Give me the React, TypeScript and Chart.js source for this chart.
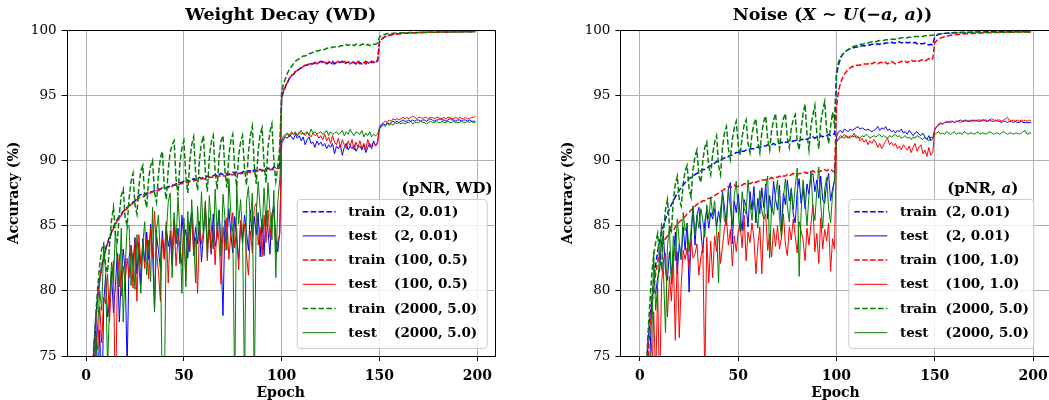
import React, { useEffect, useRef } from "react";
import { Chart, registerables } from "chart.js";
Chart.register(...registerables);

// ---------- DATA (epochs 0..199) ----------
const epochs: number[] = Array.from({ length: 200 }, (_, i) => i);

const xTickStep = 50;
const yTickStep = 5;
const yMin = 75;
const yMax = 100;

const legendWords = ["train", "test", "train", "test", "train", "test"];
const wdLegendParams = ["(2, 0.01)", "(2, 0.01)", "(100, 0.5)", "(100, 0.5)", "(2000, 5.0)", "(2000, 5.0)"];
const nzLegendParams = ["(2, 0.01)", "(2, 0.01)", "(100, 1.0)", "(100, 1.0)", "(2000, 5.0)", "(2000, 5.0)"];

// Weight Decay panel
const wdTrain2 = [
  42.0, 58.5, 67.8, 72.6, 75.8, 77.9, 79.6, 80.9, 81.9, 82.6,
  83.2, 83.7, 84.1, 84.5, 84.9, 85.2, 85.5, 85.7, 85.9, 86.1,
  86.2, 86.4, 86.5, 86.7, 86.8, 86.9, 87.1, 87.3, 87.4, 87.3,
  87.4, 87.5, 87.5, 87.6, 87.6, 87.7, 87.7, 87.8, 87.8, 87.9,
  87.9, 87.9, 88.0, 88.0, 88.1, 88.1, 88.2, 88.2, 88.3, 88.3,
  88.4, 88.3, 88.5, 88.4, 88.5, 88.6, 88.5, 88.6, 88.7, 88.6,
  88.7, 88.7, 88.8, 88.7, 88.8, 88.8, 88.9, 88.8, 88.9, 89.0,
  88.9, 89.0, 89.0, 88.9, 89.0, 89.1, 89.0, 89.1, 89.1, 89.0,
  89.1, 89.2, 89.1, 89.2, 89.2, 89.1, 89.3, 89.2, 89.3, 89.3,
  89.2, 89.4, 89.3, 89.4, 89.4, 89.3, 89.5, 89.4, 89.5, 89.6,
  94.8, 95.3, 95.7, 96.0, 96.3, 96.5, 96.6, 96.8, 96.9, 97.0,
  97.1, 97.2, 97.3, 97.3, 97.4, 97.4, 97.4, 97.5, 97.5, 97.5,
  97.6, 97.5, 97.5, 97.4, 97.5, 97.5, 97.6, 97.4, 97.5, 97.5,
  97.5, 97.6, 97.4, 97.5, 97.5, 97.6, 97.5, 97.5, 97.4, 97.6,
  97.5, 97.4, 97.5, 97.6, 97.5, 97.4, 97.6, 97.5, 97.6, 97.6,
  99.10, 99.30, 99.42, 99.50, 99.56, 99.60, 99.64, 99.67, 99.69, 99.70,
  99.72, 99.73, 99.74, 99.75, 99.76, 99.77, 99.77, 99.78, 99.79, 99.79,
  99.80, 99.80, 99.81, 99.81, 99.82, 99.82, 99.82, 99.83, 99.83, 99.83,
  99.84, 99.84, 99.84, 99.85, 99.85, 99.85, 99.85, 99.86, 99.86, 99.86,
  99.86, 99.86, 99.87, 99.87, 99.87, 99.87, 99.87, 99.88, 99.88, 99.88,
];
const wdTest2 = [
  30.0, 48.0, 60.0, 68.0, 72.5, 77.7, 73.0, 77.0, 70.0, 79.0,
  81.2, 78.0, 79.2, 81.5, 78.3, 80.4, 82.9, 77.6, 81.0, 83.2,
  81.5, 74.0, 82.6, 83.5, 82.0, 84.1, 81.3, 83.6, 80.5, 84.0,
  82.2, 84.5, 82.4, 85.1, 83.0, 78.4, 84.3, 83.1, 81.7, 84.6,
  82.5, 85.0, 83.4, 84.2, 82.0, 85.4, 83.6, 84.8, 82.1, 85.8,
  83.9, 84.7, 82.5, 85.1, 86.0, 83.2, 84.9, 83.6, 85.3, 82.2,
  84.3, 86.3, 83.5, 84.7, 82.8, 85.9, 83.4, 84.1, 86.2, 83.0,
  78.1, 85.4, 83.9, 86.3, 84.4, 82.9, 85.7, 84.0, 82.4, 85.2,
  83.6, 85.8, 84.5, 83.1, 86.2, 84.0, 85.7, 84.3, 86.0, 82.6,
  85.5, 82.7, 86.1, 84.6, 82.8, 85.9, 86.5, 84.0, 83.0, 84.5,
  91.3, 91.6, 91.8, 91.7, 92.0, 91.8, 91.6, 92.0, 91.7, 91.9,
  91.5, 91.8, 91.2, 91.6, 91.8, 91.3, 91.4, 91.0, 91.5, 91.2,
  91.4, 91.1, 91.3, 90.9, 91.2, 91.0, 91.3, 90.5, 91.1, 90.9,
  91.2, 90.4, 91.0, 91.3, 90.8, 91.1, 90.9, 91.2, 90.7, 91.0,
  91.1, 90.8, 91.2, 90.6, 91.0, 91.3, 90.9, 91.5, 91.1, 91.4,
  92.5, 92.7, 92.8, 92.7, 92.9, 92.8, 92.9, 93.0, 92.9, 93.0,
  92.9, 93.0, 93.1, 93.0, 93.0, 93.1, 93.0, 93.1, 93.0, 93.1,
  93.1, 93.0, 93.1, 93.1, 93.0, 93.1, 93.2, 93.1, 93.0, 93.1,
  93.1, 93.2, 93.1, 93.1, 93.0, 93.1, 93.2, 93.1, 93.1, 93.0,
  93.1, 93.1, 93.0, 93.1, 93.1, 93.0, 93.1, 93.0, 93.0, 93.0,
];
const wdTrain100 = [
  40.5, 57.8, 67.2, 72.3, 75.5, 77.7, 79.5, 80.8, 81.8, 82.5,
  83.1, 83.6, 84.0, 84.4, 84.8, 85.1, 85.4, 85.6, 85.8, 86.0,
  86.2, 86.3, 86.5, 86.6, 86.7, 86.9, 87.0, 87.1, 87.2, 87.2,
  87.3, 87.4, 87.5, 87.5, 87.6, 87.6, 87.7, 87.7, 87.8, 87.8,
  87.9, 87.9, 87.9, 88.0, 88.0, 88.1, 88.1, 88.1, 88.2, 88.2,
  88.3, 88.3, 88.3, 88.4, 88.4, 88.4, 88.5, 88.5, 88.5, 88.6,
  88.6, 88.6, 88.6, 88.7, 88.7, 88.7, 88.7, 88.8, 88.8, 88.8,
  88.8, 88.8, 88.9, 88.9, 88.9, 88.9, 88.9, 89.0, 89.0, 89.0,
  89.0, 89.0, 89.1, 89.1, 89.1, 89.1, 89.1, 89.2, 89.2, 89.2,
  89.2, 89.2, 89.2, 89.3, 89.3, 89.3, 89.3, 89.3, 89.4, 89.4,
  94.9, 95.4, 95.7, 96.0, 96.3, 96.5, 96.7, 96.8, 96.9, 97.0,
  97.1, 97.2, 97.3, 97.3, 97.4, 97.4, 97.5, 97.5, 97.4, 97.5,
  97.5, 97.6, 97.5, 97.5, 97.6, 97.5, 97.4, 97.5, 97.5, 97.6,
  97.5, 97.5, 97.6, 97.5, 97.5, 97.4, 97.5, 97.6, 97.5, 97.5,
  97.4, 97.5, 97.5, 97.4, 97.6, 97.5, 97.5, 97.6, 97.5, 97.7,
  99.05, 99.28, 99.40, 99.49, 99.55, 99.59, 99.63, 99.66, 99.68, 99.70,
  99.71, 99.72, 99.74, 99.75, 99.75, 99.76, 99.77, 99.78, 99.78, 99.79,
  99.80, 99.80, 99.80, 99.81, 99.81, 99.82, 99.82, 99.82, 99.83, 99.83,
  99.83, 99.84, 99.84, 99.84, 99.85, 99.85, 99.85, 99.85, 99.86, 99.86,
  99.86, 99.86, 99.86, 99.87, 99.87, 99.87, 99.87, 99.87, 99.88, 99.88,
];
const wdTest100 = [
  28.0, 46.0, 59.0, 67.0, 72.0, 76.5, 75.5, 78.8, 76.0, 79.5,
  79.0, 81.3, 77.6, 80.8, 82.3, 70.2, 81.0, 82.8, 79.6, 81.9,
  80.7, 82.5, 81.0, 83.4, 80.2, 83.8, 79.2, 84.3, 82.0, 83.5,
  81.7, 84.0, 80.9, 84.8, 82.6, 86.1, 83.0, 81.5, 79.2, 84.0,
  82.4, 85.3, 80.6, 84.6, 83.2, 85.5, 81.9, 84.2, 83.4, 82.0,
  85.2, 80.8, 84.5, 83.0, 85.9, 82.7, 84.1, 79.8, 85.0, 83.6,
  84.5, 86.8, 82.3, 85.6, 83.0, 84.7, 82.0, 85.2, 83.8, 80.5,
  84.9, 83.1, 85.6, 82.4, 84.3, 86.0, 83.3, 84.8, 81.6, 85.4,
  83.9, 85.1, 82.8, 81.2, 84.6, 82.9, 86.4, 86.7, 83.5, 84.9,
  82.6, 85.8, 83.7, 86.2, 84.1, 85.5, 86.3, 82.9, 83.8, 84.3,
  91.5, 91.9, 92.0, 92.1, 91.8, 92.2, 92.0, 92.1, 91.9, 92.2,
  92.0, 92.1, 91.9, 92.1, 92.0, 91.8, 92.1, 91.9, 92.0, 91.7,
  91.9, 91.6, 92.0, 91.5, 91.8, 91.3, 91.9, 91.4, 91.2, 91.7,
  91.0, 91.6, 91.2, 90.9, 91.5, 91.1, 91.6, 90.8, 91.4, 91.0,
  91.5, 90.9, 91.3, 90.8, 91.6, 91.0, 91.2, 91.4, 91.1, 91.3,
  92.6, 92.8, 92.9, 93.0, 92.9, 93.1, 93.0, 93.2, 93.1, 93.2,
  93.1, 93.2, 93.3, 93.2, 93.3, 93.2, 93.3, 93.4, 93.3, 93.2,
  93.3, 93.3, 93.2, 93.3, 93.3, 93.2, 93.3, 93.3, 93.2, 93.3,
  93.3, 93.2, 93.2, 93.3, 93.2, 93.3, 93.3, 93.2, 93.2, 93.3,
  93.2, 93.3, 93.2, 93.2, 93.3, 93.2, 93.2, 93.3, 93.3, 93.4,
];
const wdTrain2000 = [
  40.0, 57.0, 67.0, 72.5, 75.5, 78.2, 80.4, 82.0, 83.2, 83.6,
  81.9, 81.4, 83.5, 85.4, 86.4, 84.3, 83.8, 85.9, 87.3, 87.8,
  85.6, 85.0, 87.1, 88.4, 89.0, 86.6, 85.9, 88.0, 89.2, 89.6,
  87.1, 86.4, 88.6, 89.6, 90.0, 87.5, 86.8, 88.9, 90.2, 90.7,
  88.0, 87.0, 89.3, 90.6, 91.2, 91.5, 88.6, 87.3, 89.8, 91.0,
  91.5, 88.8, 87.5, 89.9, 91.2, 91.8, 89.0, 87.7, 90.1, 91.3,
  91.9, 89.0, 87.6, 90.2, 91.4, 91.9, 89.1, 87.8, 90.3, 91.5,
  91.9, 89.2, 87.9, 90.4, 91.5, 92.0, 89.3, 88.0, 90.4, 91.4,
  91.9, 89.4, 88.1, 90.6, 91.9, 92.6, 89.6, 88.2, 90.8, 92.0,
  92.5, 89.7, 88.3, 91.0, 92.2, 92.8, 90.0, 88.4, 89.5, 91.0,
  95.3, 95.9, 96.3, 96.7, 97.0, 97.2, 97.4, 97.6, 97.7, 97.8,
  97.9, 98.0, 98.0, 98.1, 98.2, 98.2, 98.3, 98.3, 98.4, 98.4,
  98.5, 98.5, 98.5, 98.6, 98.6, 98.6, 98.7, 98.7, 98.7, 98.7,
  98.8, 98.8, 98.8, 98.9, 98.8, 98.9, 98.9, 98.8, 98.9, 98.9,
  98.8, 98.9, 98.9, 98.8, 98.9, 98.8, 98.9, 98.9, 98.9, 99.0,
  99.45, 99.58, 99.64, 99.68, 99.71, 99.73, 99.74, 99.75, 99.76, 99.77,
  99.77, 99.78, 99.78, 99.79, 99.79, 99.80, 99.80, 99.80, 99.81, 99.81,
  99.81, 99.82, 99.82, 99.82, 99.82, 99.83, 99.83, 99.83, 99.83, 99.83,
  99.84, 99.84, 99.84, 99.84, 99.84, 99.84, 99.85, 99.85, 99.85, 99.85,
  99.85, 99.85, 99.85, 99.86, 99.86, 99.86, 99.86, 99.86, 99.86, 99.86,
];
const wdTest2000 = [
  25.0, 44.0, 58.0, 66.0, 71.0, 74.6, 77.5, 80.0, 78.5, 83.5,
  81.4, 74.0, 79.0, 82.2, 80.6, 84.6, 82.0, 80.3, 84.8, 77.6,
  81.8, 84.9, 85.0, 80.4, 82.9, 80.1, 84.3, 82.0, 79.8, 83.6,
  85.3, 81.2, 83.9, 80.7, 86.4, 78.5, 84.7, 85.8, 82.6, 72.0,
  72.0, 84.3, 86.8, 87.5, 81.0, 86.0, 83.7, 87.2, 84.5, 79.8,
  85.6, 80.3, 86.1, 83.0, 87.0, 84.2, 80.6, 86.5, 83.8, 87.6,
  84.1, 86.9, 82.5, 87.3, 85.0, 83.2, 87.8, 84.6, 86.2, 82.7,
  87.4, 85.6, 83.1, 88.6, 86.0, 84.5, 72.0, 88.2, 85.1, 87.0,
  84.2, 72.5, 86.8, 88.0, 85.3, 87.5, 72.0, 85.9, 88.4, 86.2,
  84.6, 87.9, 85.0, 88.3, 86.1, 83.9, 87.7, 81.0, 86.8, 88.5,
  91.6, 91.7, 91.9, 92.0, 91.8, 92.1, 92.0, 92.2, 91.9, 92.1,
  92.3, 92.0, 92.1, 92.2, 91.9, 92.4, 92.1, 92.2, 92.0, 92.1,
  92.2, 92.0, 92.1, 92.3, 91.9, 92.2, 92.0, 92.1, 92.2, 92.0,
  92.1, 92.3, 91.9, 92.2, 92.0, 92.4, 92.1, 91.9, 92.2, 92.1,
  92.0, 92.3, 91.8, 92.1, 91.9, 92.2, 91.8, 92.0, 91.9, 92.0,
  92.4, 92.6, 92.7, 92.6, 92.8, 92.7, 92.8, 92.7, 92.9, 92.8,
  92.9, 92.8, 92.9, 92.8, 92.9, 92.9, 93.0, 92.8, 92.9, 92.9,
  92.9, 93.0, 92.9, 92.9, 92.8, 92.9, 93.0, 92.9, 92.9, 93.0,
  92.9, 92.9, 93.0, 92.9, 92.9, 93.0, 92.9, 92.9, 93.0, 92.9,
  92.9, 92.9, 93.0, 92.9, 92.9, 93.0, 92.9, 93.0, 92.9, 92.9,
];

// Noise panel
const nzTrain2 = [
  40.0, 58.0, 67.5, 72.8, 75.8, 77.8, 79.3, 80.8, 82.0, 83.0,
  83.8, 84.5, 85.0, 85.5, 85.9, 86.3, 86.6, 86.9, 87.2, 87.5,
  87.7, 87.9, 88.1, 88.3, 88.4, 88.6, 88.7, 88.8, 88.9, 89.0,
  89.1, 89.2, 89.3, 89.3, 89.4, 89.5, 89.6, 89.7, 89.8, 89.9,
  90.0, 90.0, 90.1, 90.2, 90.2, 90.3, 90.4, 90.4, 90.5, 90.6,
  90.6, 90.7, 90.7, 90.7, 90.8, 90.8, 90.9, 90.9, 90.9, 91.0,
  91.0, 91.0, 91.1, 91.1, 91.1, 91.2, 91.2, 91.2, 91.3, 91.2,
  91.3, 91.3, 91.4, 91.3, 91.4, 91.4, 91.5, 91.4, 91.5, 91.5,
  91.6, 91.5, 91.6, 91.6, 91.7, 91.6, 91.7, 91.7, 91.8, 91.7,
  91.8, 91.8, 91.9, 91.8, 91.9, 91.9, 92.0, 91.9, 92.0, 92.0,
  96.5, 97.3, 97.8, 98.1, 98.3, 98.4, 98.5, 98.55, 98.6, 98.65,
  98.7, 98.7, 98.75, 98.8, 98.8, 98.8, 98.85, 98.85, 98.9, 98.9,
  98.9, 98.95, 98.9, 99.0, 98.95, 99.0, 99.0, 99.0, 99.05, 99.0,
  99.0, 99.05, 99.1, 99.0, 99.05, 99.1, 99.0, 99.05, 99.0, 99.0,
  99.05, 98.95, 99.0, 98.95, 98.95, 99.0, 98.9, 98.85, 98.9, 98.85,
  99.50, 99.60, 99.65, 99.70, 99.72, 99.74, 99.76, 99.77, 99.78, 99.79,
  99.80, 99.80, 99.81, 99.81, 99.82, 99.82, 99.83, 99.83, 99.83, 99.84,
  99.84, 99.84, 99.85, 99.85, 99.85, 99.85, 99.86, 99.86, 99.86, 99.86,
  99.86, 99.87, 99.87, 99.87, 99.87, 99.87, 99.87, 99.88, 99.88, 99.88,
  99.88, 99.88, 99.88, 99.88, 99.89, 99.89, 99.89, 99.89, 99.89, 99.89,
];
const nzTest2 = [
  30.0, 48.0, 60.0, 68.0, 73.0, 74.5, 79.2, 80.1, 79.8, 81.0,
  81.6, 83.8, 84.2, 81.5, 80.8, 83.0, 81.2, 82.6, 84.5, 81.3,
  83.6, 82.4, 84.9, 83.1, 85.2, 79.9, 84.0, 86.5, 83.5, 85.8,
  86.4, 84.6, 82.9, 85.3, 86.2, 84.8, 86.0, 85.5, 86.3, 84.9,
  86.1, 85.2, 87.6, 86.4, 85.0, 87.8, 88.3, 83.6, 86.9, 86.0,
  87.4, 85.8, 84.6, 87.0, 86.5, 84.9, 87.6, 86.2, 88.0, 85.2,
  87.1, 85.9, 87.9, 86.4, 88.2, 85.5, 87.3, 86.0, 88.4, 87.0,
  86.2, 88.1, 84.6, 87.5, 86.6, 88.5, 86.9, 87.8, 85.9, 85.2,
  87.6, 88.6, 86.7, 87.9, 86.3, 88.2, 87.4, 88.9, 89.0, 87.6,
  88.5, 87.1, 88.8, 87.0, 86.7, 88.3, 89.0, 86.9, 87.8, 88.5,
  91.8, 92.2, 92.3, 92.1, 92.4, 92.3, 92.2, 92.4, 92.3, 92.4,
  92.5, 92.6, 92.4, 92.5, 92.4, 92.3, 92.4, 92.3, 92.2, 92.3,
  92.4, 92.6, 92.3, 92.5, 92.4, 92.6, 92.3, 92.4, 92.2, 92.3,
  92.1, 92.3, 92.2, 92.4, 92.1, 92.2, 92.0, 92.3, 92.1, 91.9,
  92.1, 92.2, 92.0, 91.9, 92.1, 91.8, 91.6, 91.9, 91.5, 91.7,
  92.4, 92.6, 92.7, 92.8, 92.8, 92.9, 92.9, 93.0, 92.9, 93.0,
  92.9, 93.0, 93.0, 93.1, 93.0, 93.0, 93.1, 93.0, 93.0, 93.1,
  93.0, 93.1, 93.0, 93.0, 93.1, 93.1, 93.0, 93.0, 93.1, 93.0,
  93.0, 93.1, 93.0, 93.0, 92.9, 93.0, 93.0, 92.9, 93.0, 93.0,
  92.9, 93.0, 92.9, 92.9, 93.0, 92.9, 92.9, 92.9, 92.9, 92.9,
];
const nzTrain100 = [
  38.0, 56.0, 66.0, 71.5, 74.6, 77.0, 78.8, 80.2, 81.3, 82.2,
  82.9, 83.4, 83.7, 84.0, 84.2, 84.5, 84.7, 84.6, 84.9, 85.1,
  85.3, 85.4, 85.6, 85.7, 85.9, 86.0, 86.2, 86.3, 86.5, 86.6,
  86.8, 86.8, 86.9, 86.9, 87.0, 87.1, 87.1, 87.2, 87.3, 87.4,
  87.5, 87.6, 87.7, 87.8, 87.9, 88.0, 87.9, 88.0, 88.1, 88.0,
  88.0, 88.1, 88.1, 88.2, 88.2, 88.3, 88.2, 88.3, 88.4, 88.3,
  88.4, 88.4, 88.5, 88.5, 88.5, 88.6, 88.6, 88.7, 88.6, 88.7,
  88.7, 88.8, 88.7, 88.8, 88.8, 88.9, 88.8, 88.9, 89.0, 88.9,
  88.9, 89.0, 89.0, 89.0, 89.1, 89.0, 89.1, 89.1, 89.2, 89.1,
  89.2, 89.1, 89.2, 89.2, 89.3, 89.2, 89.3, 89.3, 89.2, 89.1,
  94.0, 95.3, 95.9, 96.3, 96.6, 96.8, 97.0, 97.1, 97.2, 97.2,
  97.3, 97.3, 97.3, 97.4, 97.4, 97.4, 97.4, 97.5, 97.4, 97.5,
  97.5, 97.4, 97.5, 97.5, 97.6, 97.5, 97.4, 97.5, 97.6, 97.5,
  97.4, 97.5, 97.5, 97.6, 97.5, 97.6, 97.5, 97.6, 97.7, 97.6,
  97.6, 97.7, 97.6, 97.7, 97.7, 97.6, 97.7, 97.8, 97.7, 97.8,
  99.00, 99.20, 99.30, 99.38, 99.44, 99.49, 99.53, 99.56, 99.59, 99.61,
  99.63, 99.65, 99.66, 99.68, 99.69, 99.70, 99.71, 99.72, 99.73, 99.74,
  99.75, 99.75, 99.76, 99.77, 99.77, 99.78, 99.78, 99.79, 99.79, 99.80,
  99.80, 99.80, 99.81, 99.81, 99.81, 99.82, 99.82, 99.82, 99.83, 99.83,
  99.83, 99.83, 99.84, 99.84, 99.84, 99.84, 99.85, 99.85, 99.85, 99.85,
];
const nzTest100 = [
  25.0, 42.0, 55.0, 64.0, 70.0, 74.2, 72.5, 78.4, 73.0, 80.2,
  72.0, 80.6, 82.4, 82.9, 78.0, 81.1, 79.2, 82.5, 76.2, 83.0,
  76.4, 80.5, 83.1, 82.4, 83.3, 81.7, 84.0, 82.5, 82.8, 83.6,
  81.2, 82.6, 83.4, 73.0, 84.1, 80.6, 83.8, 81.0, 84.2, 83.0,
  84.5, 82.1, 83.4, 84.8, 85.6, 83.5, 84.7, 81.9, 84.2, 83.0,
  84.6, 85.1, 83.3, 85.8, 82.3, 84.5, 83.7, 85.2, 84.0, 81.3,
  83.5, 84.9, 81.3, 85.4, 85.9, 83.1, 84.4, 82.6, 84.8, 83.4,
  85.0, 83.2, 84.1, 85.9, 83.6, 82.7, 84.9, 83.9, 85.5, 84.2,
  82.9, 85.3, 84.6, 83.9, 82.3, 84.8, 83.5, 85.1, 86.6, 83.0,
  84.4, 82.1, 85.6, 83.2, 84.7, 83.8, 85.2, 81.5, 84.0, 83.2,
  91.4, 91.7, 91.9, 91.8, 92.0, 91.8, 91.7, 91.9, 91.8, 92.1,
  91.7, 91.8, 91.5, 91.7, 91.4, 91.6, 91.2, 91.5, 91.3, 91.6,
  91.4, 91.0, 91.3, 90.9, 91.2, 91.5, 91.7, 91.2, 91.4, 91.1,
  91.3, 90.9, 91.1, 90.8, 91.2, 91.0, 90.8, 91.1, 90.6, 91.0,
  91.3, 90.7, 91.0, 91.2, 90.5, 90.8, 90.3, 91.0, 90.4, 90.6,
  92.3, 92.6, 92.8, 92.9, 92.8, 92.9, 93.0, 92.9, 93.0, 93.0,
  92.9, 93.0, 93.0, 92.9, 93.0, 93.1, 93.0, 93.0, 93.1, 93.0,
  93.1, 93.0, 93.1, 93.1, 93.0, 93.1, 93.1, 93.0, 93.1, 93.2,
  93.1, 93.0, 93.1, 93.1, 93.0, 93.1, 93.2, 93.3, 93.1, 93.0,
  93.1, 93.0, 93.1, 93.0, 93.1, 93.0, 93.1, 93.0, 93.1, 93.0,
];
const nzTrain2000 = [
  38.0, 57.0, 67.5, 73.0, 76.5, 79.0, 81.2, 82.8, 83.7, 84.4,
  82.4, 81.8, 84.5, 86.2, 87.0, 85.0, 84.6, 86.9, 88.2, 88.8,
  87.0, 86.5, 88.2, 89.2, 89.6, 87.8, 87.2, 89.3, 90.3, 90.8,
  88.8, 88.3, 90.0, 91.0, 91.4, 89.5, 88.9, 90.5, 91.4, 91.9,
  89.6, 88.9, 91.0, 92.1, 92.6, 90.9, 90.1, 91.6, 92.5, 93.0,
  91.2, 90.4, 91.8, 92.7, 93.1, 91.3, 90.6, 92.0, 92.8, 93.2,
  91.4, 90.6, 92.1, 93.0, 93.4, 91.6, 90.8, 92.3, 93.1, 93.6,
  91.8, 90.9, 92.4, 93.2, 93.6, 91.7, 91.0, 92.5, 93.1, 93.5,
  91.5, 90.8, 92.4, 93.6, 94.3, 92.0, 90.8, 92.6, 93.5, 94.2,
  92.1, 90.9, 92.9, 93.8, 94.5, 92.3, 91.3, 92.6, 93.7, 92.8,
  96.8, 97.5, 97.9, 98.1, 98.3, 98.4, 98.5, 98.6, 98.7, 98.75,
  98.8, 98.85, 98.9, 98.9, 98.95, 99.0, 99.0, 99.05, 99.1, 99.1,
  99.1, 99.15, 99.2, 99.2, 99.2, 99.25, 99.25, 99.3, 99.3, 99.3,
  99.3, 99.35, 99.35, 99.4, 99.4, 99.4, 99.4, 99.45, 99.45, 99.45,
  99.5, 99.5, 99.5, 99.5, 99.5, 99.55, 99.55, 99.55, 99.6, 99.6,
  99.65, 99.68, 99.70, 99.72, 99.73, 99.74, 99.75, 99.76, 99.76, 99.77,
  99.77, 99.78, 99.78, 99.78, 99.79, 99.79, 99.79, 99.80, 99.80, 99.80,
  99.80, 99.81, 99.81, 99.81, 99.81, 99.81, 99.82, 99.82, 99.82, 99.82,
  99.82, 99.82, 99.83, 99.83, 99.83, 99.83, 99.83, 99.83, 99.83, 99.84,
  99.84, 99.84, 99.84, 99.84, 99.84, 99.84, 99.84, 99.85, 99.85, 99.85,
];
const nzTest2000 = [
  22.0, 40.0, 55.0, 64.0, 70.0, 73.5, 76.0, 83.0, 78.5, 80.4,
  82.7, 85.2, 81.2, 76.8, 83.4, 85.0, 80.5, 84.2, 82.3, 85.5,
  83.7, 82.4, 86.0, 84.6, 85.1, 83.0, 84.7, 86.5, 84.2, 85.8,
  84.8, 86.3, 85.4, 84.1, 86.6, 85.5, 87.2, 85.8, 86.9, 84.6,
  80.6, 86.2, 87.5, 85.3, 85.6, 87.8, 86.4, 85.0, 87.3, 88.4,
  86.1, 84.5, 87.6, 86.3, 85.9, 88.5, 86.8, 85.4, 87.0, 86.0,
  84.8, 87.7, 86.2, 85.5, 88.0, 88.8, 82.5, 86.6, 85.8, 87.4,
  88.5, 85.6, 84.0, 87.1, 88.6, 86.5, 85.3, 87.9, 86.2, 88.0,
  89.4, 81.1, 86.0, 88.5, 86.9, 85.0, 87.3, 89.2, 86.4, 85.4,
  87.7, 89.5, 86.6, 84.8, 87.8, 88.7, 86.3, 85.2, 87.4, 88.5,
  91.4, 91.6, 91.7, 91.8, 91.7, 91.9, 91.8, 91.7, 91.9, 91.8,
  91.9, 91.8, 91.7, 91.9, 91.8, 92.0, 91.9, 91.7, 91.8, 91.9,
  91.8, 91.9, 92.0, 91.8, 91.9, 91.8, 91.7, 91.9, 91.8, 91.9,
  92.0, 91.8, 91.9, 91.7, 91.8, 91.9, 91.7, 91.8, 91.6, 91.8,
  91.7, 91.9, 91.8, 91.7, 91.6, 91.8, 91.6, 91.5, 91.8, 91.7,
  92.0, 92.1, 92.2, 92.0, 92.1, 92.0, 92.2, 92.1, 92.0, 92.1,
  92.2, 92.0, 92.1, 92.1, 92.0, 92.2, 92.1, 92.0, 92.1, 92.1,
  92.0, 92.1, 92.2, 92.0, 92.1, 92.1, 92.0, 92.1, 92.2, 92.1,
  92.0, 92.1, 92.1, 92.0, 92.1, 92.2, 92.1, 92.0, 92.1, 92.1,
  92.0, 92.1, 92.1, 92.0, 92.1, 92.2, 92.3, 92.0, 92.1, 92.1,
];

// ---------- STYLE ----------
const FONT = '"DejaVu Serif", serif';
const BLUE = "#0000ff";
const RED = "#ff0000";
const GREEN = "#008000";
const colors = [BLUE, BLUE, RED, RED, GREEN, GREEN];
const dashedFlags = [true, false, true, false, true, false];

type Seg = { t: string; it?: boolean };
interface Panel {
  series: number[][];
  title: Seg[];
  titleCx: number;
  legendTitle: Seg[];
  legendTitleRight: number;
  boxL: number;
  boxW: number;
  params: string[];
  yScaleWidth: number;
  padRight: number;
}

function drawSegs(ctx: CanvasRenderingContext2D, segs: Seg[], x: number, y: number, size: number, align: "center" | "right") {
  const fonts = segs.map((s) => `${s.it ? "italic " : ""}bold ${size}px ${FONT}`);
  const widths = segs.map((s, i) => {
    ctx.font = fonts[i];
    return ctx.measureText(s.t).width;
  });
  const total = widths.reduce((a, b) => a + b, 0);
  let cx = align === "center" ? x - total / 2 : x - total;
  ctx.textAlign = "left";
  ctx.textBaseline = "middle";
  segs.forEach((s, i) => {
    ctx.font = fonts[i];
    ctx.fillText(s.t, cx, y);
    cx += widths[i];
  });
}

function makeDecor(p: Panel) {
  return {
    id: "decor",
    afterDraw(chart: any) {
      const ctx: CanvasRenderingContext2D = chart.ctx;
      const a = chart.chartArea;
      ctx.save();
      // frame
      ctx.strokeStyle = "#000";
      ctx.lineWidth = 1;
      ctx.setLineDash([]);
      const l = Math.round(a.left) + 0.5, r = Math.round(a.right) + 0.5;
      const t = Math.round(a.top) + 0.5, b = Math.round(a.bottom) + 0.5;
      ctx.strokeRect(l, t, r - l, b - t);
      ctx.fillStyle = "#000";
      // title
      drawSegs(ctx, p.title, p.titleCx, 15, 17.5, "center");
      // x title
      ctx.font = `bold 14px ${FONT}`;
      ctx.textAlign = "center";
      ctx.textBaseline = "middle";
      ctx.fillText("Epoch", (a.left + a.right) / 2, 393);
      // y title
      ctx.save();
      ctx.translate(a.left - 52, (a.top + a.bottom) / 2);
      ctx.rotate(-Math.PI / 2);
      ctx.fillText("Accuracy (%)", 0, 0);
      ctx.restore();
      // legend
      drawSegs(ctx, p.legendTitle, p.legendTitleRight, 189, 15, "right");
      ctx.beginPath();
      (ctx as any).roundRect(p.boxL + 0.5, 199.5, p.boxW, 149, 3);
      ctx.fillStyle = "rgba(255,255,255,0.8)";
      ctx.fill();
      ctx.strokeStyle = "#cccccc";
      ctx.stroke();
      for (let k = 0; k < 6; k++) {
        const y = 211.7 + 24.2 * k;
        ctx.beginPath();
        ctx.strokeStyle = colors[k];
        ctx.lineWidth = dashedFlags[k] ? 1.5 : 1;
        ctx.setLineDash(dashedFlags[k] ? [5.5, 2.4] : []);
        ctx.moveTo(p.boxL + 6, y);
        ctx.lineTo(p.boxL + 39, y);
        ctx.stroke();
        ctx.setLineDash([]);
        ctx.fillStyle = "#000";
        ctx.font = `bold 13.5px ${FONT}`;
        ctx.textAlign = "left";
        ctx.textBaseline = "middle";
        ctx.fillText(legendWords[k], p.boxL + 51.6, y + 0.5);
        ctx.fillText(p.params[k], p.boxL + 97.3, y + 0.5);
      }
      ctx.restore();
    },
  };
}

function buildChart(canvas: HTMLCanvasElement, p: Panel) {
  const datasets = p.series.map((vals, k) => ({
    label: legendWords[k] + " " + p.params[k],
    data: vals.map((y, i) => ({ x: epochs[i], y })),
    borderColor: colors[k],
    backgroundColor: colors[k],
    borderWidth: dashedFlags[k] ? 1.5 : 1,
    borderDash: dashedFlags[k] ? [5.5, 2.4] : [],
    pointRadius: 0,
    tension: 0,
    fill: false,
    clip: 0,
    order: 5 - k,
  }));
  const grid = { color: "#b0b0b0", lineWidth: 1, drawTicks: true, tickLength: 5, tickColor: "#000", tickWidth: 1 };
  return new Chart(canvas, {
    type: "line",
    data: { datasets },
    plugins: [makeDecor(p)],
    options: {
      responsive: false,
      animation: false,
      events: [],
      layout: { padding: { left: 0, right: p.padRight, top: 30, bottom: 0 } },
      plugins: { legend: { display: false }, tooltip: { enabled: false }, title: { display: false } },
      scales: {
        x: {
          type: "linear",
          min: -9.95,
          max: 208.95,
          afterFit: (s: any) => { s.height = 44; },
          ticks: { stepSize: xTickStep, includeBounds: false, color: "#000", padding: 7, maxRotation: 0, font: { family: FONT, size: 14, weight: "bold" } },
          grid,
          border: { display: false },
        },
        y: {
          type: "linear",
          min: yMin,
          max: yMax,
          afterFit: (s: any) => { s.width = p.yScaleWidth; },
          ticks: { stepSize: yTickStep, includeBounds: false, color: "#000", padding: 5, font: { family: FONT, size: 13.5 } },
          grid,
          border: { display: false },
        },
      },
    } as any,
  });
}

const leftPanel: Panel = {
  series: [wdTrain2, wdTest2, wdTrain100, wdTest100, wdTrain2000, wdTest2000],
  title: [{ t: "Weight Decay (WD)" }],
  titleCx: 280.7,
  legendTitle: [{ t: "(pNR, WD)" }],
  legendTitleRight: 492.7,
  boxL: 296.7,
  boxW: 190,
  params: wdLegendParams,
  yScaleWidth: 66.6,
  padRight: 25.2,
};
const RIGHT_OFF = 530;
const rightPanel: Panel = {
  series: [nzTrain2, nzTest2, nzTrain100, nzTest100, nzTrain2000, nzTest2000],
  title: [
    { t: "Noise (" },
    { t: "X", it: true },
    { t: " ∼ " },
    { t: "U", it: true },
    { t: "(−" },
    { t: "a", it: true },
    { t: ", " },
    { t: "a", it: true },
    { t: "))" },
  ],
  titleCx: 832.5 - RIGHT_OFF,
  legendTitle: [{ t: "(pNR, " }, { t: "a", it: true }, { t: ")" }],
  legendTitleRight: 1018.3 - RIGHT_OFF,
  boxL: 848.3 - RIGHT_OFF,
  boxW: 185,
  params: nzLegendParams,
  yScaleWidth: 620.4 - RIGHT_OFF,
  padRight: 530 - (1050.6 - RIGHT_OFF),
};

export default function App() {
  const leftRef = useRef<HTMLCanvasElement>(null);
  const rightRef = useRef<HTMLCanvasElement>(null);
  useEffect(() => {
    const c1 = buildChart(leftRef.current!, leftPanel);
    const c2 = buildChart(rightRef.current!, rightPanel);
    return () => {
      c1.destroy();
      c2.destroy();
    };
  }, []);
  return (
    <div style={{ position: "fixed", left: 0, top: 0, width: 1049, height: 400, overflow: "hidden", background: "#fff" }}>
      <canvas ref={leftRef} width={520} height={400} style={{ position: "absolute", left: 0, top: 0, width: 520, height: 400 }} />
      <canvas ref={rightRef} width={530} height={400} style={{ position: "absolute", left: RIGHT_OFF, top: 0, width: 530, height: 400 }} />
    </div>
  );
}
